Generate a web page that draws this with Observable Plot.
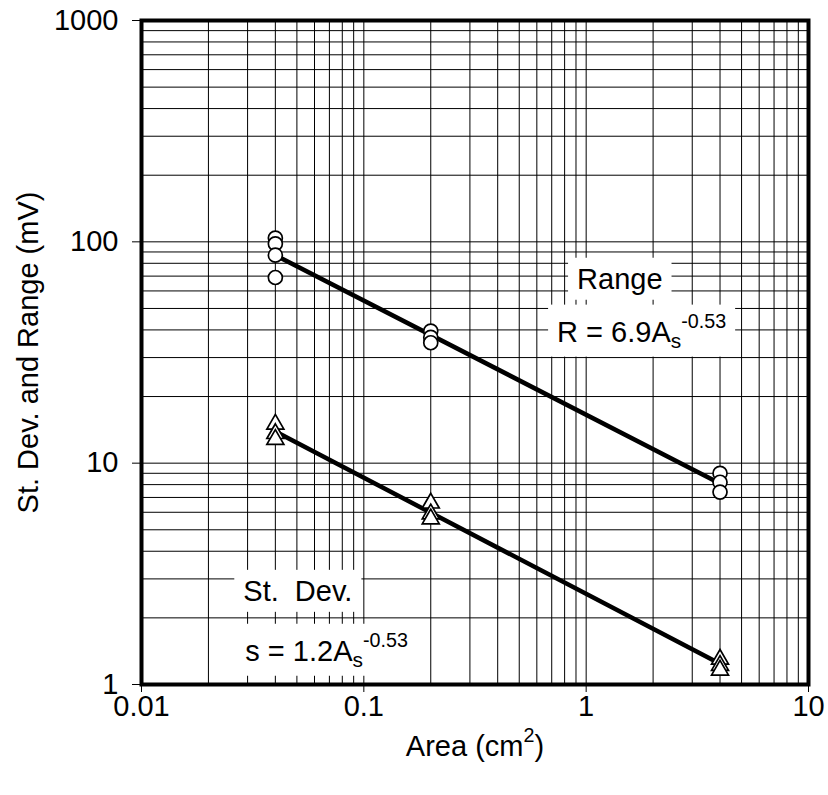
<!DOCTYPE html>
<html>
<head>
<meta charset="utf-8">
<script src="https://cdn.jsdelivr.net/npm/d3@7"></script>
<script src="https://cdn.jsdelivr.net/npm/@observablehq/plot@0.6"></script>
<style>
  html, body { margin: 0; padding: 0; background: #fff; }
</style>
</head>
<body>
<script>
// ---- data ----
const rangeArea  = [0.04, 0.04, 0.04, 0.04, 0.2, 0.2, 0.2, 4, 4, 4];
const rangeValue = [104, 98, 87, 69, 39.5, 37, 35, 9.0, 8.2, 7.4];
const sdArea     = [0.04, 0.04, 0.04, 0.2, 0.2, 0.2, 4, 4, 4];
const sdValue    = [15, 13.6, 12.8, 6.6, 5.9, 5.6, 1.30, 1.22, 1.16];

const rangeFitArea  = [0.04, 4];
const rangeFitValue = [87, 8.1];
const sdFitArea     = [0.04, 4];
const sdFitValue    = [13.9, 1.24];

const xTicks = [0.01, 0.1, 1, 10];
const yTicks = [1, 10, 100, 1000];
const gridMultiples = [1, 2, 3, 4, 5, 6, 7, 8, 9];
const xDecades = [0.01, 0.1, 1];
const yDecades = [1, 10, 100];

const annotationText = ["Range", "R = 6.9A_{s}^{-0.53}", "St.\u00A0 Dev.", "s = 1.2A_{s}^{-0.53}"];
const annotationX    = [0.91, 0.74, 0.0287, 0.0293];
const annotationY    = [67.6, 39, 2.63, 1.41];

const xLabel = "Area (cm^{2})";
const yLabel = "St. Dev. and Range (mV)";

// ---- derived tables ----
const xGrid = xDecades.flatMap(d => gridMultiples.map(m => m * d)).concat([10]);
const yGrid = yDecades.flatMap(d => gridMultiples.map(m => m * d)).concat([1000]);
const rangePts = rangeArea.map((a, i) => ({a, v: rangeValue[i]}));
const sdPts = sdArea.map((a, i) => ({a, v: sdValue[i]}));
const rangeFit = rangeFitArea.map((a, i) => ({a, v: rangeFitValue[i]}));
const sdFit = sdFitArea.map((a, i) => ({a, v: sdFitValue[i]}));
const annotations = annotationText.map((t, i) => ({t, x: annotationX[i], y: annotationY[i]}));

const chart = Plot.plot({
  width: 828,
  height: 795,
  marginLeft: 141,
  marginRight: 20,
  marginTop: 20,
  marginBottom: 111,
  style: {fontFamily: "'Liberation Sans', Arial, sans-serif", fontSize: "29px", background: "#fff", color: "#000"},
  x: {type: "log", domain: [0.01, 10], ticks: xTicks, tickFormat: d => String(d), tickSize: 8, tickPadding: 3, label: null},
  y: {type: "log", domain: [1, 1000], ticks: yTicks, tickFormat: d => String(d), tickSize: 9, tickPadding: 14, label: null},
  marks: [
    Plot.ruleX(xGrid, {x: d => d, stroke: "#000", strokeWidth: 1}),
    Plot.ruleY(yGrid, {y: d => d, stroke: "#000", strokeWidth: 1}),
    Plot.text(annotations, {x: "x", y: "y", text: "t", textAnchor: "start", lineAnchor: "middle", fill: "#000"}),
    Plot.line(rangeFit, {x: "a", y: "v", stroke: "#000", strokeWidth: 4.5}),
    Plot.line(sdFit, {x: "a", y: "v", stroke: "#000", strokeWidth: 4.5}),
    Plot.dot(rangePts, {x: "a", y: "v", symbol: "circle", r: 7, stroke: "#000", fill: "#fff", strokeWidth: 1.7}),
    Plot.dot(sdPts, {x: "a", y: "v", symbol: "triangle", r: 6.3, stroke: "#000", fill: "#fff", strokeWidth: 1.7}),
    Plot.frame({stroke: "#000", strokeWidth: 4}),
    Plot.text([xLabel], {frameAnchor: "bottom", dy: 62, text: d => d, textAnchor: "middle", lineAnchor: "middle", fill: "#000"}),
    Plot.text([yLabel], {frameAnchor: "left", dx: -113, text: d => d, rotate: -90, textAnchor: "middle", lineAnchor: "middle", fill: "#000"})
  ]
});
document.body.appendChild(chart);

// ---- rich text (sub/superscripts) and white label boxes ----
const NS = "http://www.w3.org/2000/svg";
function richify(t) {
  const s = t.textContent;
  if (!/[_^]\{/.test(s)) return;
  const parts = s.split(/([_^]\{[^}]*\})/).filter(p => p);
  t.textContent = "";
  let shift = 0;
  for (const p of parts) {
    const ts = document.createElementNS(NS, "tspan");
    let target = 0, size = null, txt = p;
    if (p[0] === "_") { target = 6; size = "0.72em"; txt = p.slice(2, -1); }
    else if (p[0] === "^") { target = -14; size = "0.68em"; txt = p.slice(2, -1); }
    ts.textContent = txt;
    if (size) ts.setAttribute("font-size", size);
    if (target !== shift) ts.setAttribute("dy", target - shift);
    shift = target;
    t.appendChild(ts);
  }
}
const annSet = new Set(annotationText);
chart.querySelectorAll("text").forEach(t => {
  const isAnn = annSet.has(t.textContent);
  richify(t);
  if (isAnn) {
    const b = t.getBBox();
    const padX = 9, padY = 5;
    const r = document.createElementNS(NS, "rect");
    r.setAttribute("x", b.x - padX);
    r.setAttribute("y", b.y - padY);
    r.setAttribute("width", b.width + 2 * padX);
    r.setAttribute("height", b.height + 2 * padY);
    r.setAttribute("fill", "#fff");
    const tr = t.getAttribute("transform");
    if (tr) r.setAttribute("transform", tr);
    t.parentNode.insertBefore(r, t);
  }
});
</script>
</body>
</html>
